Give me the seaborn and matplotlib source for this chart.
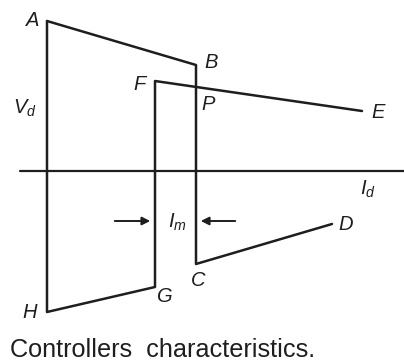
import matplotlib
matplotlib.use("Agg")
import matplotlib.pyplot as plt
import seaborn as sns
import pandas as pd

# Characteristic polylines (I_d horizontal, V_d vertical; I_d axis at V_d = 0)
rectifier_pts = ["A", "B", "C", "D"]
rectifier_id = [47, 196, 196, 332]
rectifier_vd = [150, 106, -93, -53]

inverter_pts = ["E", "F", "G", "H", "A"]
inverter_id = [362, 155, 155, 47, 47]
inverter_vd = [60, 90, -116, -141, 150]

axis_id = [20, 404]
axis_vd = [0, 0]

sns.set_theme(style="white")
plt.rcParams["font.family"] = ["Liberation Sans", "DejaVu Sans"]
plt.rcParams["mathtext.fontset"] = "custom"
plt.rcParams["mathtext.it"] = "Liberation Sans:italic"
plt.rcParams["mathtext.rm"] = "Liberation Sans"

fig = plt.figure(figsize=(4.04, 3.64), dpi=100)
ax = fig.add_axes([0, 0, 1, 1])

col = "#1e1e1e"
for name, xs, ys in [("rect", rectifier_id, rectifier_vd),
                     ("inv", inverter_id, inverter_vd),
                     ("axis", axis_id, axis_vd)]:
    df = pd.DataFrame({"Id": xs, "Vd": ys})
    sns.lineplot(data=df, x="Id", y="Vd", sort=False, estimator=None,
                 color=col, lw=1.8 if name != "axis" else 1.6, ax=ax)

ax.set_xlim(0, 404)
ax.set_ylim(171 - 364, 171)
ax.set_axis_off()

lab = dict(fontsize=14.5, style="italic", color=col, ha="center", va="center")
ax.text(33, 171 - 20, "A", **lab)
ax.text(211, 171 - 62, "B", **lab)
ax.text(140, 171 - 84, "F", **lab)
ax.text(208, 171 - 104, "P", **lab)
ax.text(378, 171 - 112, "E", **lab)
ax.text(346, 171 - 225, "D", **lab)
ax.text(198, 171 - 280, "C", **lab)
ax.text(165, 171 - 297, "G", **lab)
ax.text(30, 171 - 313, "H", **lab)
ax.text(25, 171 - 108, r"$V_d$", fontsize=14.5, color=col, ha="center", va="center")
ax.text(368, 171 - 189, r"$I_d$", fontsize=14.5, color=col, ha="center", va="center")
ax.text(177, 171 - 222, r"$I_m$", fontsize=14.5, color=col, ha="center", va="center")

ap = dict(arrowstyle="-|>", color=col, lw=1.4, mutation_scale=12)
ax.annotate("", xy=(153, -50), xytext=(112, -50), arrowprops=ap)
ax.annotate("", xy=(198, -50), xytext=(238, -50), arrowprops=ap)

ax.text(10, 171 - 350, "Controllers  characteristics.", fontsize=18.2, color=col,
        ha="left", va="center")

fig.savefig("out.png", dpi=100)
